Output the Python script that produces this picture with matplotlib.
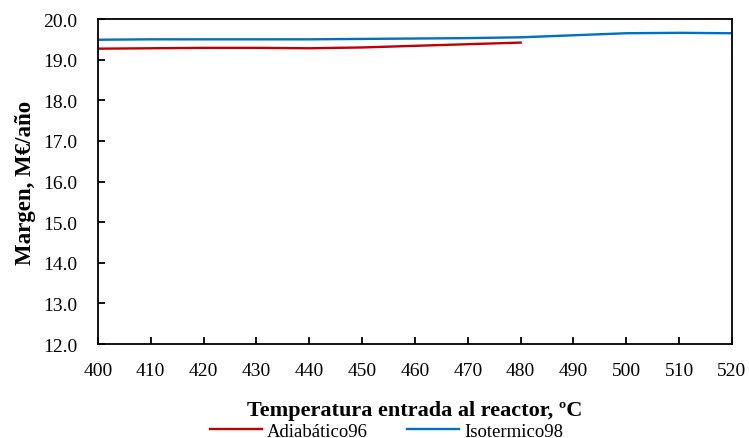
import matplotlib
matplotlib.use("Agg")
import matplotlib.pyplot as plt

temp_adiab = [400, 410, 420, 430, 440, 450, 460, 470, 480]
margen_adiab = [19.27, 19.28, 19.29, 19.29, 19.28, 19.30, 19.34, 19.38, 19.42]
temp_iso = [400, 410, 420, 430, 440, 450, 460, 470, 480, 490, 500, 510, 520]
margen_iso = [19.49, 19.50, 19.50, 19.50, 19.50, 19.51, 19.52, 19.53, 19.55, 19.60, 19.65, 19.66, 19.65]
xticks = list(range(400, 521, 10))
yticks = [12.0, 13.0, 14.0, 15.0, 16.0, 17.0, 18.0, 19.0, 20.0]

plt.rcParams['font.family'] = ['Liberation Serif', 'DejaVu Serif']

fig = plt.figure(figsize=(7.49, 4.39), dpi=100)
ax = fig.add_axes([0.1308, 0.2141, 0.8465, 0.7403])
ax.plot(temp_adiab, margen_adiab, color='#C00000', lw=1.7, label='Adiabático96')
ax.plot(temp_iso, margen_iso, color='#0070C0', lw=1.7, label='Isotermico98')
ax.set_xlim(400, 520)
ax.set_ylim(12, 20)
ax.set_xticks(xticks)
ax.set_xticklabels([str(t) for t in xticks])
ax.set_yticks(yticks)
ax.set_yticklabels([f"{v:.1f}" for v in yticks])
ax.tick_params(direction='in', length=5, width=1.3, labelsize=14)
ax.tick_params(axis='y', pad=15)
ax.tick_params(axis='x', pad=13)
for s in ax.spines.values():
    s.set_linewidth(1.3)
ax.set_xlabel('Temperatura entrada al reactor, ºC', fontsize=16, fontweight='bold', labelpad=15)
ax.set_ylabel('Margen, M€/año', fontsize=16.5, fontweight='bold', labelpad=5)
fig.legend(loc='center', bbox_to_anchor=(0.516, 0.016), ncol=2, frameon=False,
           fontsize=13.5, handlelength=2.77, handletextpad=0.27, columnspacing=2.13,
           borderpad=0, borderaxespad=0)
fig.savefig('out.png', dpi=100)
